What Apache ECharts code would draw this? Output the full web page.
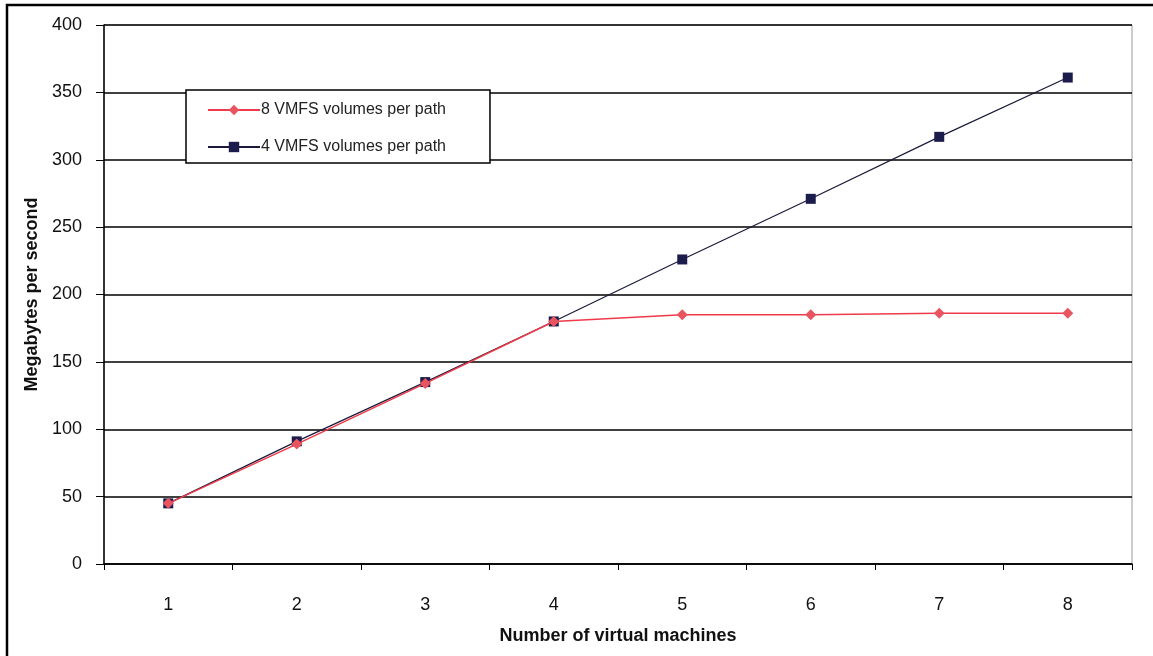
<!DOCTYPE html>
<html><head><meta charset="utf-8">
<script src="https://cdn.jsdelivr.net/npm/echarts@6/dist/echarts.min.js"></script>
<style>html,body{margin:0;padding:0;background:#fff}#c{width:1153px;height:656px}</style>
</head><body><div id="c"></div>
<script>
var categories = ['1','2','3','4','5','6','7','8'];
var series8 = [45, 89, 134, 180, 185, 185, 186, 186];
var series4 = [45, 91, 135, 180, 226, 271, 317, 361];
var name8 = '8 VMFS volumes per path';
var name4 = '4 VMFS volumes per path';

var chart = echarts.init(document.getElementById('c'));
chart.setOption({
  backgroundColor: '#fff',
  animation: false,
  grid: {left: 104, right: 21, top: 25, bottom: 92, show: true, borderColor: '#999', borderWidth: 1},
  legend: {
    left: 186, top: 90, orient: 'vertical',
    padding: [12, 44, 8, 21], itemGap: 21,
    backgroundColor: '#fff', borderColor: '#000', borderWidth: 1.5,
    itemWidth: 52, itemHeight: 13,
    textStyle: {fontFamily: 'Liberation Sans, Arial', fontSize: 16, color: '#222', padding: [0,0,0,-4]},
    data: [name8, name4]
  },
  xAxis: {
    type: 'category', data: categories, boundaryGap: true,
    name: 'Number of virtual machines', nameLocation: 'middle', nameGap: 63,
    nameTextStyle: {fontFamily: 'Liberation Sans, Arial', fontWeight: 'bold', fontSize: 18, color: '#111'},
    axisLine: {lineStyle: {color: '#000', width: 1.5}},
    axisTick: {show: true, inside: false, length: 6, lineStyle: {color: '#000'}},
    axisLabel: {fontFamily: 'Liberation Sans, Arial', fontSize: 18, color: '#111', margin: 32}
  },
  yAxis: {
    type: 'value', min: 0, max: 400, interval: 50,
    name: 'Megabytes per second', nameLocation: 'middle', nameGap: 63, nameRotate: 90,
    nameTextStyle: {fontFamily: 'Liberation Sans, Arial', fontWeight: 'bold', fontSize: 18, color: '#111'},
    axisLine: {show: true, lineStyle: {color: '#000', width: 1.5}},
    axisTick: {show: true, length: 8, lineStyle: {color: '#000'}},
    axisLabel: {fontFamily: 'Liberation Sans, Arial', fontSize: 18, color: '#111', margin: 22},
    splitLine: {lineStyle: {color: '#000', width: 1.5}}
  },
  series: [
    {name: name4, type: 'line', data: series4, symbol: 'rect', symbolSize: 10,
     lineStyle: {color: '#1a1a3a', width: 1.2}, itemStyle: {color: '#1c1c4c'}, z: 2},
    {name: name8, type: 'line', data: series8, symbol: 'diamond', symbolSize: 11,
     lineStyle: {color: '#ee3a4a', width: 1.5}, itemStyle: {color: '#e85560'}, z: 3}
  ],
  graphic: [
    {type: 'rect', shape: {x: 7, y: 5, width: 1160, height: 670}, style: {fill: null, stroke: '#000', lineWidth: 2.5}, silent: true}
  ]
});
</script></body></html>
